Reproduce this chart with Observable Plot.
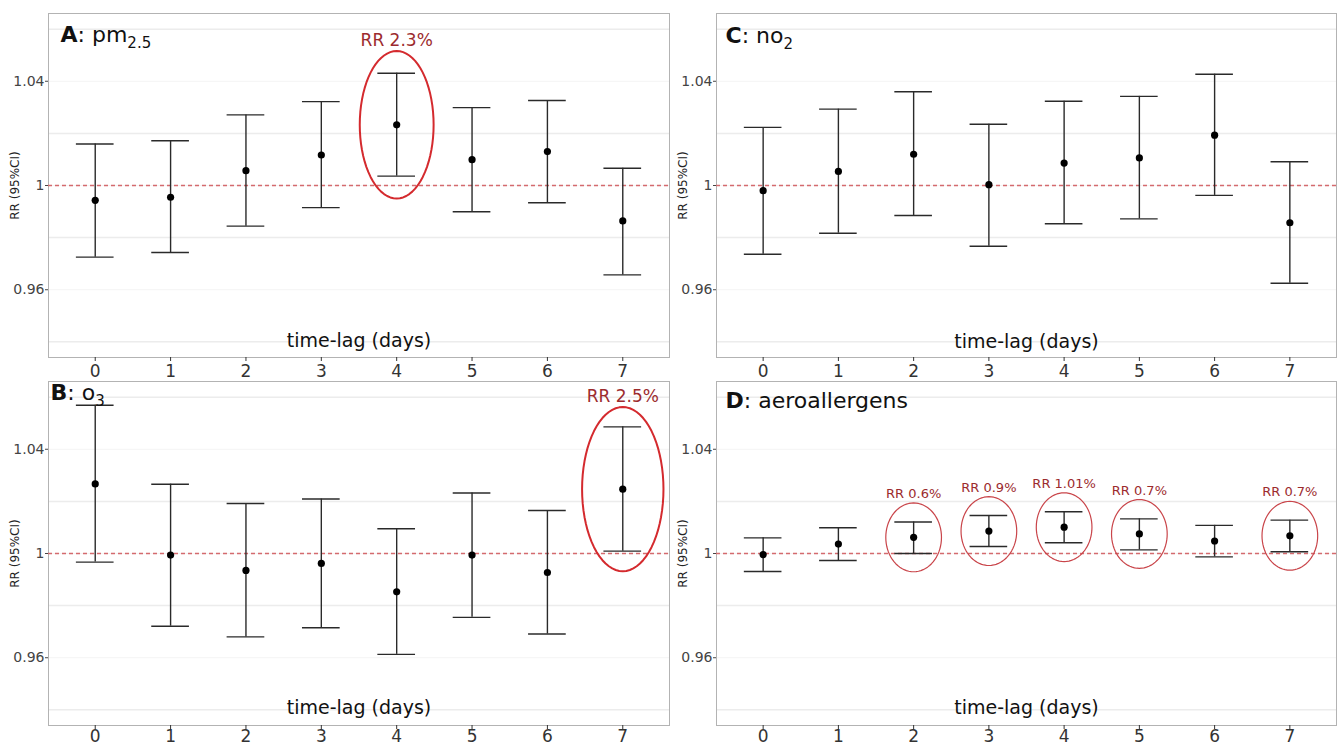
<!DOCTYPE html>
<html><head><meta charset="utf-8">
<script src="https://cdn.jsdelivr.net/npm/d3@7"></script>
<script src="https://cdn.jsdelivr.net/npm/@observablehq/plot@0.6"></script>
<style>
html,body{margin:0;padding:0;background:#fff;}
#chart{position:relative;width:1344px;height:746px;overflow:hidden;background:#fff;}
#chart > div.panel{position:absolute;}
</style></head><body><div id="chart"></div>
<script>
// ---- data ----
const lags = [0, 1, 2, 3, 4, 5, 6, 7];
const yTicks = [0.96, 1, 1.04];
const yMinor = [0.94, 0.98, 1.02, 1.06];
const xLabel = "time-lag (days)";
const yLabel = "RR (95%CI)";

const pm25_rr = [0.9943, 0.9955, 1.0057, 1.0117, 1.0233, 1.0099, 1.0130, 0.9864];
const pm25_lo = [0.9725, 0.9743, 0.9844, 0.9915, 1.0036, 0.9899, 0.9934, 0.9657];
const pm25_hi = [1.0159, 1.0172, 1.0271, 1.0322, 1.0431, 1.0299, 1.0326, 1.0066];

const o3_rr = [1.0267, 0.9994, 0.9935, 0.9962, 0.9853, 0.9994, 0.9927, 1.0247];
const o3_lo = [0.9967, 0.9721, 0.9680, 0.9715, 0.9613, 0.9755, 0.9691, 1.0009];
const o3_hi = [1.0569, 1.0266, 1.0192, 1.0209, 1.0095, 1.0232, 1.0165, 1.0486];

const no2_rr = [0.9980, 1.0054, 1.0120, 1.0003, 1.0086, 1.0106, 1.0193, 0.9857];
const no2_lo = [0.9736, 0.9817, 0.9885, 0.9767, 0.9853, 0.9872, 0.9962, 0.9625];
const no2_hi = [1.0223, 1.0293, 1.0360, 1.0235, 1.0323, 1.0342, 1.0427, 1.0091];

const aero_rr = [0.9996, 1.0036, 1.0062, 1.0086, 1.0101, 1.0075, 1.0048, 1.0068];
const aero_lo = [0.9931, 0.9973, 1.0000, 1.0027, 1.0041, 1.0014, 0.9987, 1.0007];
const aero_hi = [1.0060, 1.0099, 1.0121, 1.0146, 1.0160, 1.0133, 1.0108, 1.0128];

const panelLetters = ["A", "B", "C", "D"];
const panelNames = ["pm", "o", "no", "aeroallergens"];
const panelSubs = ["2.5", "3", "2", ""];

const annLagsA = [4], annTextA = ["RR 2.3%"];
const annLagsB = [7], annTextB = ["RR 2.5%"];
const annLagsC = [], annTextC = [];
const annLagsD = [2, 3, 4, 5, 7], annTextD = ["RR 0.6%", "RR 0.9%", "RR 1.01%", "RR 0.7%", "RR 0.7%"];

// ---- layout / style ----
const panels = [
  {i:0, rr:pm25_rr, lo:pm25_lo, hi:pm25_hi, annLags:annLagsA, annText:annTextA,
   left:0, top:0, width:672, height:384, mL:48, mR:3, mT:13, mB:27, tdx:12, tdy:28, tpad:3,
   rx:0.49, ry:0.0283, ellStroke:"#d42a2e", ellW:2, annSize:17, xlDy:-17},
  {i:1, rr:o3_rr, lo:o3_lo, hi:o3_hi, annLags:annLagsB, annText:annTextB,
   left:0, top:368, width:672, height:378, mL:48, mR:3, mT:13, mB:21, tdx:2, tdy:18, tpad:0,
   rx:0.54, ry:0.0315, ellStroke:"#d42a2e", ellW:2, annSize:17, xlDy:-18},
  {i:2, rr:no2_rr, lo:no2_lo, hi:no2_hi, annLags:annLagsC, annText:annTextC,
   left:672, top:0, width:672, height:384, mL:44, mR:8, mT:13, mB:27, tdx:9, tdy:29, tpad:3,
   rx:0.37, ry:0.0132, ellStroke:"#c9454a", ellW:1.2, annSize:13, xlDy:-16},
  {i:3, rr:aero_rr, lo:aero_lo, hi:aero_hi, annLags:annLagsD, annText:annTextD,
   left:672, top:368, width:672, height:378, mL:44, mR:8, mT:13, mB:21, tdx:9, tdy:26, tpad:0,
   rx:0.37, ry:0.0132, ellStroke:"#c9454a", ellW:1.2, annSize:13, xlDy:-18}
];

const FONT = "'DejaVu Sans', sans-serif";
const chart = document.getElementById("chart");

function makePanel(p) {
  const data = lags.map((l, k) => ({lag: l, rr: p.rr[k], lo: p.lo[k], hi: p.hi[k]}));
  const ann = p.annLags.map((l, k) => ({lag: l, text: p.annText[k], cy: p.rr[lags.indexOf(l)]}));
  const ell = ann.flatMap((a, k) => d3.range(0, 73).map(j => {
    const t = j / 72 * 2 * Math.PI;
    return {k, x: a.lag + p.rx * Math.cos(t), y: a.cy + p.ry * Math.sin(t)};
  }));
  const titleStr = panelLetters[p.i] + ": " + panelNames[p.i] + panelSubs[p.i];
  const svg = Plot.plot({
    width: p.width, height: p.height,
    marginLeft: p.mL, marginRight: p.mR, marginTop: p.mT, marginBottom: p.mB,
    style: {fontFamily: FONT, background: "transparent", overflow: "visible"},
    x: {domain: [-0.62, 7.62]},
    y: {domain: [0.934, 1.066]},
    marks: [
      Plot.ruleY(yMinor, {stroke: "#ececec", strokeWidth: 1.5}),
      Plot.ruleY(yTicks, {stroke: "#f4f4f4", strokeWidth: 1}),
      Plot.frame({stroke: "#b3b3b3", strokeWidth: 1}),
      Plot.ruleY([1], {stroke: "#d46a6e", strokeWidth: 1.4, strokeDasharray: "4,3"}),
      Plot.ruleX(data, {x: "lag", y1: "lo", y2: "hi", stroke: "#2a2a2a", strokeWidth: 1.4}),
      Plot.ruleY(data, {y: "hi", x1: d => d.lag - 0.25, x2: d => d.lag + 0.25, stroke: "#2a2a2a", strokeWidth: 1.4}),
      Plot.ruleY(data, {y: "lo", x1: d => d.lag - 0.25, x2: d => d.lag + 0.25, stroke: "#2a2a2a", strokeWidth: 1.4}),
      Plot.dot(data, {x: "lag", y: "rr", r: 3.6, fill: "#000", stroke: null}),
      Plot.line(ell, {x: "x", y: "y", z: "k", stroke: p.ellStroke, strokeWidth: p.ellW}),
      Plot.text(ann, {x: "lag", y: d => d.cy + p.ry, text: "text", lineAnchor: "bottom", dy: -5,
        fill: "#9c2b2e", fontSize: p.annSize, fontFamily: FONT}),
      Plot.axisX({ticks: lags, tickFormat: d => String(d), tickSize: 4, tickPadding: p.tpad,
        fontSize: 17, color: "#333", label: null}),
      Plot.axisY({ticks: yTicks, tickFormat: d => d === 1 ? "1" : d.toFixed(2), tickSize: 3,
        tickPadding: 1, fontSize: 14, color: "#444", label: null}),
      Plot.text([xLabel], {text: d => d, frameAnchor: "bottom", lineAnchor: "middle", dy: p.xlDy,
        fontSize: 19, fill: "#111"}),
      Plot.text([yLabel], {text: d => d, frameAnchor: "left", rotate: -90, textAnchor: "middle",
        lineAnchor: "middle", dx: -33, fontSize: 12, fill: "#222"}),
      Plot.text([titleStr], {text: d => d, frameAnchor: "top-left", textAnchor: "start", lineAnchor: "bottom",
        dx: p.tdx, dy: p.tdy, fontSize: 22, fill: "#111"})
    ]
  });
  // rich title: bold letter, subscript
  const ns = "http://www.w3.org/2000/svg";
  svg.querySelectorAll("text").forEach(t => {
    if (t.textContent === titleStr) {
      t.textContent = "";
      const a = document.createElementNS(ns, "tspan");
      a.setAttribute("font-weight", "bold");
      a.textContent = panelLetters[p.i];
      t.appendChild(a);
      const b = document.createElementNS(ns, "tspan");
      b.textContent = ": " + panelNames[p.i];
      t.appendChild(b);
      if (panelSubs[p.i]) {
        const c = document.createElementNS(ns, "tspan");
        c.setAttribute("font-size", "15");
        c.setAttribute("dy", "6");
        c.textContent = panelSubs[p.i];
        t.appendChild(c);
      }
    }
  });
  const wrap = document.createElement("div");
  wrap.className = "panel";
  wrap.style.left = p.left + "px";
  wrap.style.top = p.top + "px";
  wrap.appendChild(svg);
  chart.appendChild(wrap);
}
panels.forEach(makePanel);
</script></body></html>
